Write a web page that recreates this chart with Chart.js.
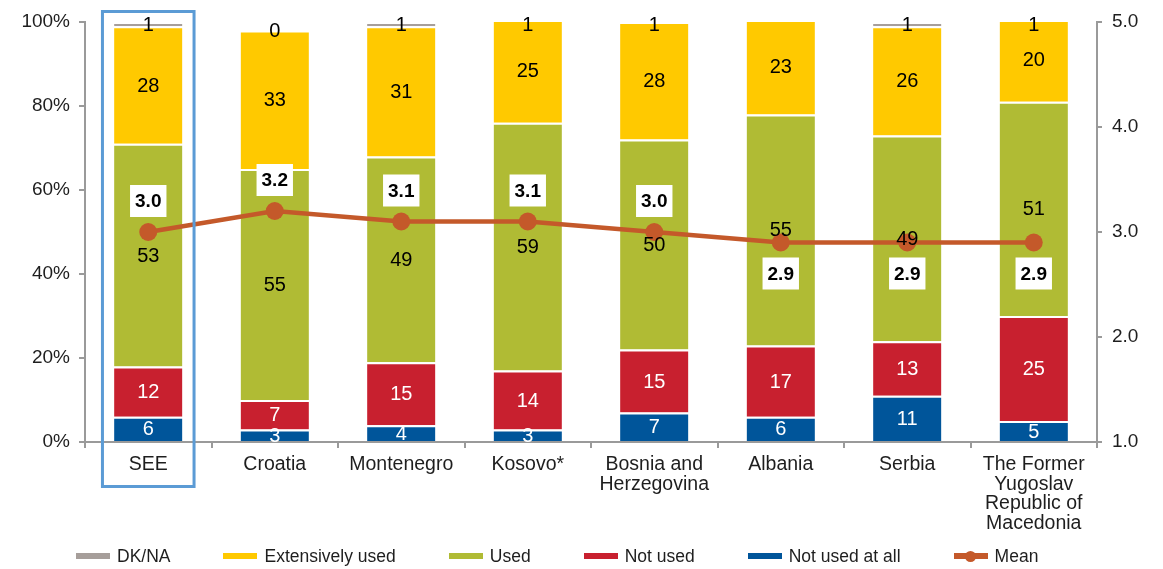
<!DOCTYPE html>
<html>
<head>
<meta charset="utf-8">
<title>Use of services by economy</title>
<script src="https://cdn.jsdelivr.net/npm/chart.js@4.4.1/dist/chart.umd.min.js"></script>
<style>
  html, body { margin: 0; padding: 0; background: #ffffff; }
  #wrap { width: 1163px; height: 569px; position: relative; }
  #chart { position: absolute; left: 0; top: 0; }
  #legend {
    position: absolute; left: 76px; top: 545px; height: 22px;
    display: flex; justify-content: flex-start; align-items: center; gap: 53px;
    font-family: 'Liberation Sans', Arial, Helvetica, sans-serif;
    font-size: 17.5px; color: #1e1e1e; line-height: 22px;
  }
  #legend .item { display: flex; align-items: center; white-space: nowrap; }
  #legend .swatch { width: 34px; height: 6px; margin-right: 7px; position: relative; }
  #legend .swatch .dot {
    position: absolute; left: 11.5px; top: -2.5px; width: 11px; height: 11px; border-radius: 50%;
  }
</style>
</head>
<body>
<div id="wrap">
  <canvas id="chart" width="1163" height="569"></canvas>
  <div id="legend"></div>
</div>
<script>
// Economies along the x axis
const categories = [
  'SEE', 'Croatia', 'Montenegro', 'Kosovo*', ['Bosnia and', 'Herzegovina'],
  'Albania', 'Serbia', ['The Former', 'Yugoslav', 'Republic of', 'Macedonia']
];

// Shares of respondents (%), stacked bottom to top
const notUsedAtAll    = [6, 3, 4, 3, 7, 6, 11, 5];
const notUsed         = [12, 7, 15, 14, 15, 17, 13, 25];
const used            = [53, 55, 49, 59, 50, 55, 49, 51];
const extensivelyUsed = [28, 33, 31, 25, 28, 23, 26, 20];
const dkNa            = [1, 0, 1, 1, 1, null, 1, 1];

// Mean score on the 1–5 scale (right axis)
const meanScore = [3.0, 3.2, 3.1, 3.1, 3.0, 2.9, 2.9, 2.9];

// Axis ranges and tick steps
const percentTicks = { min: 0, max: 100, step: 20 };
const scoreTicks   = { min: 1, max: 5, step: 1 };

const FAMILY = "'Liberation Sans', Arial, Helvetica, sans-serif";
const TEXT = '#1e1e1e';
const AXIS = '#9a9a9a';

const COLORS = {
  dkNa: '#A69E9A',
  extensively: '#FFC900',
  used: '#B0BB34',
  notUsed: '#C8202F',
  notAtAll: '#00559A',
  mean: '#C4592A',
  highlight: '#5B9BD5'
};

function barSeries(label, data, color, textColor) {
  return {
    type: 'bar',
    label: label,
    data: data,
    backgroundColor: color,
    borderColor: '#ffffff',
    borderWidth: { top: 2, left: 0, right: 0, bottom: 0 },
    stack: 'shares',
    yAxisID: 'y',
    valueColor: textColor,
    legendColor: color,
    barPercentage: 0.54,
    categoryPercentage: 1.0
  };
}

const datasets = [
  barSeries('Not used at all', notUsedAtAll, COLORS.notAtAll, '#ffffff'),
  barSeries('Not used', notUsed, COLORS.notUsed, '#ffffff'),
  barSeries('Used', used, COLORS.used, '#000000'),
  barSeries('Extensively used', extensivelyUsed, COLORS.extensively, '#000000'),
  barSeries('DK/NA', dkNa, COLORS.dkNa, '#000000'),
  {
    type: 'line',
    label: 'Mean',
    data: meanScore,
    yAxisID: 'y2',
    borderColor: COLORS.mean,
    backgroundColor: COLORS.mean,
    borderWidth: 4.5,
    pointRadius: 9,
    pointHoverRadius: 9,
    pointBackgroundColor: COLORS.mean,
    pointBorderColor: COLORS.mean,
    pointBorderWidth: 0,
    tension: 0,
    order: -1,
    legendColor: COLORS.mean
  }
];

// Legend reads top of stack first, then the mean line
const legendOrder = [4, 3, 2, 1, 0, 5];
const MEAN_INDEX = 5;

// Writes the share inside each bar segment and the boxed mean score by each point
const valueLabels = {
  id: 'valueLabels',
  afterDatasetsDraw(chart) {
    const { ctx, chartArea } = chart;
    ctx.save();
    ctx.textAlign = 'center';
    ctx.textBaseline = 'middle';
    chart.data.datasets.forEach((ds, i) => {
      if (ds.type !== 'bar') return;
      const meta = chart.getDatasetMeta(i);
      meta.data.forEach((bar, j) => {
        const v = ds.data[j];
        if (v === null || v === undefined) return;
        const p = bar.getProps(['x', 'y', 'base'], true);
        let cy = (p.y + p.base) / 2;
        cy = Math.max(cy, chartArea.top + 2.5);
        ctx.font = '20px ' + FAMILY;
        ctx.fillStyle = ds.valueColor;
        ctx.fillText(String(v), p.x, cy + 1);
      });
    });

    const meanMeta = chart.getDatasetMeta(MEAN_INDEX);
    ctx.font = 'bold 19px ' + FAMILY;
    meanMeta.data.forEach((pt, j) => {
      const v = meanScore[j];
      const txt = v.toFixed(1);
      const w = ctx.measureText(txt).width + 10;
      const h = 32;
      const above = v >= 3.0;
      const cy = pt.y + (above ? -31 : 31);
      ctx.fillStyle = '#ffffff';
      ctx.fillRect(pt.x - w / 2, cy - h / 2, w, h);
      ctx.fillStyle = '#000000';
      ctx.fillText(txt, pt.x, cy + 1);
    });
    ctx.restore();
  },
  afterDraw(chart) {
    const { ctx, chartArea } = chart;
    const x = chart.scales.x;
    // Outline around the regional average column
    const cat = (x.right - x.left) / categories.length;
    const cx = x.getPixelForValue(0);
    const half = cat * 0.362;
    ctx.save();
    ctx.strokeStyle = COLORS.highlight;
    ctx.lineWidth = 3;
    ctx.strokeRect(cx - half, chartArea.top - 10.5, half * 2, chartArea.bottom - chartArea.top + 55);
    ctx.restore();
  }
};

const legendLabels = {
  generateLabels(chart) {
    return legendOrder.map(i => {
      const ds = chart.data.datasets[i];
      return {
        text: ds.label,
        fillStyle: ds.legendColor,
        strokeStyle: ds.legendColor,
        lineWidth: 0,
        hidden: false,
        datasetIndex: i,
        fontColor: TEXT
      };
    });
  }
};

const chart = new Chart(document.getElementById('chart'), {
  data: { labels: categories, datasets: datasets },
  options: {
    responsive: false,
    animation: false,
    devicePixelRatio: 1,
    layout: { padding: { top: 22, left: 0, right: 0, bottom: 35 } },
    plugins: {
      tooltip: { enabled: false },
      legend: { display: false, labels: legendLabels }
    },
    scales: {
      x: {
        stacked: true,
        offset: true,
        grid: { display: true, drawOnChartArea: false, offset: true, tickLength: 6, color: AXIS, lineWidth: 2 },
        border: { display: true, color: AXIS, width: 2 },
        ticks: {
          color: TEXT, padding: 7, autoSkip: false, maxRotation: 0, minRotation: 0,
          font: { family: FAMILY, size: 19.5, lineHeight: 1.0 }
        },
        afterFit(scale) { scale.height = 92; }
      },
      y: {
        stacked: true,
        position: 'left',
        min: percentTicks.min,
        max: percentTicks.max,
        grid: { display: true, drawOnChartArea: false, tickLength: 6, color: AXIS, lineWidth: 2 },
        border: { display: true, color: AXIS, width: 2 },
        ticks: {
          stepSize: percentTicks.step, color: TEXT, padding: 9,
          font: { family: FAMILY, size: 19 },
          callback: v => v + '%'
        },
        afterFit(scale) { scale.width = 85; }
      },
      y2: {
        position: 'right',
        min: scoreTicks.min,
        max: scoreTicks.max,
        grid: { display: true, drawOnChartArea: false, tickLength: 5, color: AXIS, lineWidth: 2 },
        border: { display: true, color: AXIS, width: 2 },
        ticks: {
          stepSize: scoreTicks.step, color: TEXT, padding: 10,
          font: { family: FAMILY, size: 19 },
          callback: v => Number(v).toFixed(1)
        },
        afterFit(scale) { scale.width = 66; }
      }
    }
  },
  plugins: [valueLabels]
});

// Legend row under the chart, built from the chart's own legend items
(function buildLegend() {
  const box = document.getElementById('legend');
  const items = chart.options.plugins.legend.labels.generateLabels(chart);
  items.forEach(it => {
    const item = document.createElement('div');
    item.className = 'item';
    const sw = document.createElement('span');
    sw.className = 'swatch';
    sw.style.background = it.fillStyle;
    if (it.datasetIndex === MEAN_INDEX) {
      const dot = document.createElement('span');
      dot.className = 'dot';
      dot.style.background = it.fillStyle;
      sw.appendChild(dot);
    }
    const tx = document.createElement('span');
    tx.textContent = it.text;
    item.appendChild(sw);
    item.appendChild(tx);
    box.appendChild(item);
  });
})();
</script>
</body>
</html>
